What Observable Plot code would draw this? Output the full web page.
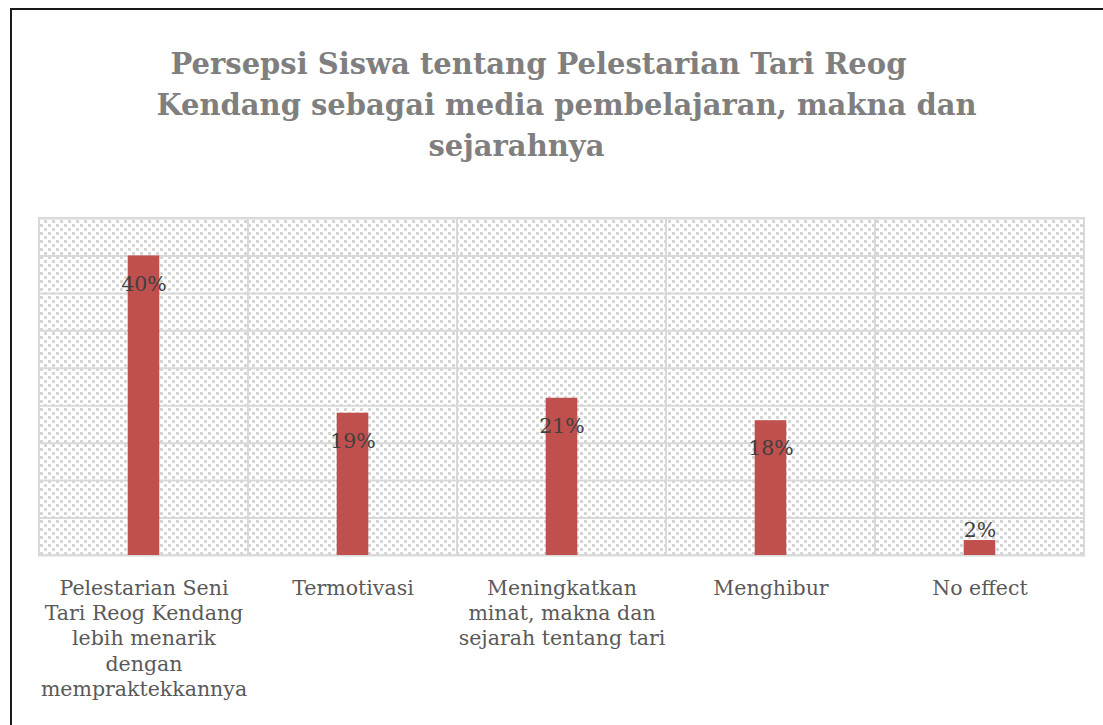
<!DOCTYPE html>
<html><head><meta charset="utf-8">
<script src="https://cdn.jsdelivr.net/npm/d3@7"></script>
<script src="https://cdn.jsdelivr.net/npm/@observablehq/plot@0.6"></script>
<style>
html,body{margin:0;padding:0;background:#fff;width:1103px;height:725px;overflow:hidden;}
#frame{position:absolute;left:10px;top:8px;width:1100px;height:730px;border-left:2px solid #1a1a1a;border-top:2px solid #1a1a1a;}
#title{position:absolute;left:10px;top:44px;width:1093px;text-align:center;font-family:"DejaVu Serif",serif;font-weight:bold;font-size:29px;line-height:41px;color:#7f7f7f;}
#title span{display:block;position:relative;white-space:nowrap;}
#chart{position:absolute;left:0;top:200px;}
</style></head>
<body>
<div id="frame"></div>
<div id="title"><span style="left:-18px">Persepsi Siswa tentang Pelestarian Tari Reog</span><span style="left:10px">Kendang sebagai media pembelajaran, makna dan</span><span style="left:-40px">sejarahnya</span></div>
<div id="chart"></div>
<script>
const categories = ["Pelestarian", "Termotivasi", "Meningkatkan", "Menghibur", "No effect"];
const values = [40, 19, 21, 18, 2];
const valueLabels = ["40%", "19%", "21%", "18%", "2%"];
const tickLabels = [
  "Pelestarian Seni\nTari Reog Kendang\nlebih menarik\ndengan\nmempraktekkannya",
  "Termotivasi",
  "Meningkatkan\nminat, makna dan\nsejarah tentang tari",
  "Menghibur",
  "No effect"
];
const yTicks = [0, 5, 10, 15, 20, 25, 30, 35, 40, 45];
const yMax = 45;

const data = categories.map((c, i) => ({cat: c, value: values[i], label: valueLabels[i], tick: tickLabels[i]}));
const tickMap = new Map(data.map(d => [d.cat, d.tick]));
const serif = "'DejaVu Serif',serif";

const plot = Plot.plot({
  width: 1103,
  height: 525,
  marginLeft: 38,
  marginRight: 18,
  marginTop: 18,
  marginBottom: 170,
  style: {fontFamily: serif, background: "transparent"},
  x: {domain: categories, padding: 0, label: null},
  y: {domain: [0, yMax], axis: null},
  marks: [
    Plot.barY(data, {x: "cat", y1: 0, y2: yMax, fill: "url(#hatch)", stroke: "#d9d9d9", strokeWidth: 2}),
    Plot.ruleY(yTicks, {stroke: "#d9d9d9", strokeWidth: 2}),
    Plot.barY(data, {x: "cat", y: "value", fill: "#C0504D", insetLeft: 88.7, insetRight: 88.7}),
    Plot.text(data.filter(d => d.value >= 5), {x: "cat", y: "value", text: "label", dy: 28, fontSize: 20.5, fill: "#404040", fontFamily: serif}),
    Plot.text(data.filter(d => d.value < 5), {x: "cat", y: "value", text: "label", dy: -10, fontSize: 20.5, fill: "#404040", fontFamily: serif}),
    Plot.axisX({tickSize: 0, tickPadding: 21, fontSize: 20.5, lineHeight: 1.24, fill: "#595959", tickFormat: d => tickMap.get(d), label: null})
  ]
});

const ns = "http://www.w3.org/2000/svg";
const defs = document.createElementNS(ns, "defs");
defs.innerHTML = `<pattern id="hatch" width="8" height="8" patternUnits="userSpaceOnUse">
  <rect width="8" height="8" fill="#ffffff"/>
  <rect x="0" y="0" width="3" height="3" fill="#d8d8d8"/>
  <rect x="4" y="4" width="3" height="3" fill="#d8d8d8"/>
  <rect x="1" y="1" width="1" height="1" fill="#c8c8c8"/>
  <rect x="5" y="5" width="1" height="1" fill="#c8c8c8"/>
</pattern>`;
plot.insertBefore(defs, plot.firstChild);
document.getElementById("chart").appendChild(plot);
</script>
</body></html>
